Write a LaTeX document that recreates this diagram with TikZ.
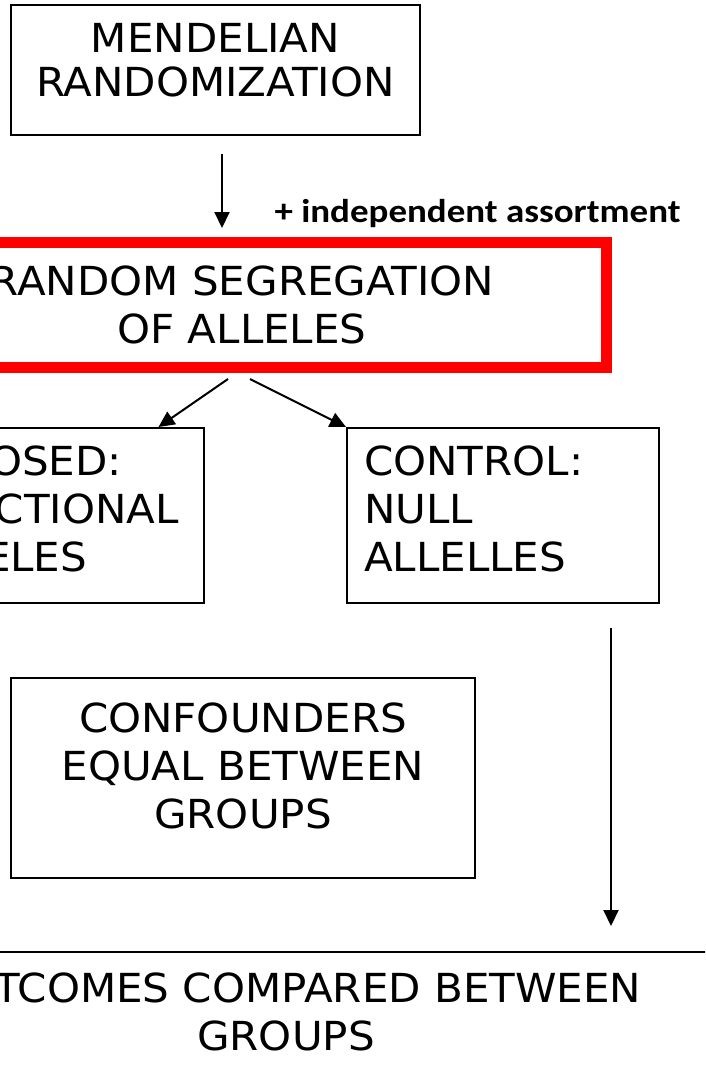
\documentclass[tikz,border=0pt]{standalone}
\usepackage{fontspec}
\setmainfont[FakeStretch=1.05]{DejaVu Sans}
\newfontfamily\notefont[FakeStretch=1.12]{Carlito}
\usetikzlibrary{arrows.meta, positioning}

\begin{document}
\begin{tikzpicture}[x=1pt, y=-1pt, font=\fontsize{40}{48}\selectfont,
        box/.style={draw, line width=2pt, align=center, inner sep=0pt},
        listbox/.style={box, align=left, text width=278pt, inner xsep=17pt,
                        minimum height=175pt, text depth=109pt},
        arr/.style={-{Triangle[length=16pt, width=15pt]}, line width=2pt}]
      \useasboundingbox (0,0) rectangle (705,1072);
      \clip (0,0) rectangle (705,1072);
      \node[box, minimum width=409pt, minimum height=130pt, text depth=20pt,
            font=\fontsize{40}{44}\selectfont]
            (mendel) at (215.5,70) {MENDELIAN\\RANDOMIZATION};
      \node[box, draw=red, line width=11pt, minimum width=729pt,
            minimum height=125pt] (seg) at (242,305)
            {RANDOM SEGREGATION\\OF ALLELES};
      \node[font=\notefont\bfseries\fontsize{33}{38}\selectfont,
            anchor=base west] (assort) at (271,222) {+ independent assortment};
      \node[listbox] (exp) at (47.5,515.5) {EXPOSED:\\FUNCTIONAL\\ALLELES};
      \node[listbox] (ctl) at (503,515.5) {CONTROL:\\NULL\\ALLELLES};
      \node[box, minimum width=464pt, minimum height=200pt, text depth=24pt]
            (conf) at (243,778) {CONFOUNDERS\\EQUAL BETWEEN\\GROUPS};
      \node[box, minimum width=900pt, minimum height=160pt, text depth=40pt]
            (out) at (286,1032) {OUTCOMES COMPARED BETWEEN\\GROUPS};
      \draw[arr] ([xshift=6.5pt, yshift=-18pt]mendel.south)
            -- ([xshift=-20pt, yshift=9pt]seg.north);
      \draw[arr] ([xshift=-14pt, yshift=-6pt]seg.south)
            -- ([xshift=-46pt]exp.north east);
      \draw[arr] ([xshift=8pt, yshift=-6pt]seg.south) -- (ctl.north west);
      % control branch runs straight down to the outcomes
      \coordinate (drop) at ([xshift=108pt]ctl.south |- out.north);
      \draw[arr] ([xshift=108pt, yshift=-24pt]ctl.south)
            -- ([yshift=25pt]drop);
    \end{tikzpicture}
\end{document}
